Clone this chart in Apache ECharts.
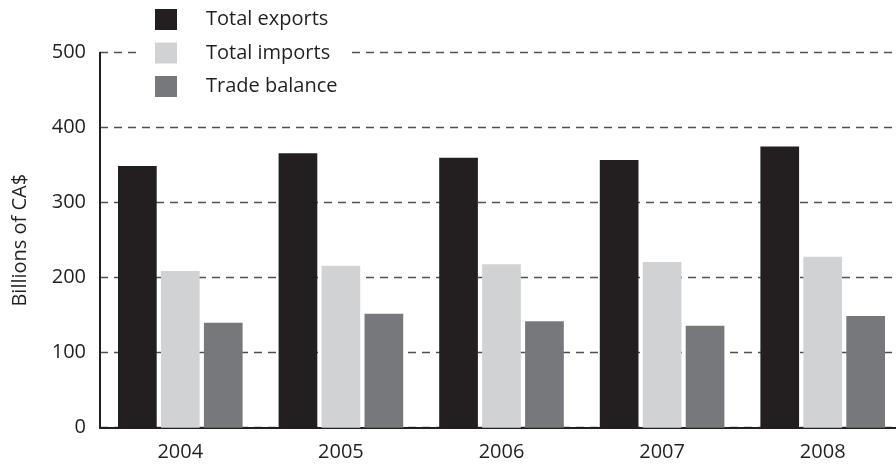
<!DOCTYPE html>
<html>
<head>
<meta charset="utf-8">
<script src="https://cdn.jsdelivr.net/npm/echarts@6/dist/echarts.min.js"></script>
<style>
  html, body { margin: 0; padding: 0; background: #ffffff; overflow: hidden; }
  /* the plot runs a little past the right edge of the window */
  #chart { width: 903px; height: 466px; }
</style>
</head>
<body>
<div id="chart"></div>
<script>
// Canadian trade, billions of CA$
const years = ['2004', '2005', '2006', '2007', '2008'];
const totalExports = [349, 366, 360, 357, 375];
const totalImports = [209, 216, 218, 221, 228];
const tradeBalance = [140, 152, 142, 136, 149];
const seriesNames = ['Total exports', 'Total imports', 'Trade balance'];
const yTicks = { min: 0, max: 500, interval: 100 };

const FONT = 'Open Sans';
const INK = '#231f20';

const chart = echarts.init(document.getElementById('chart'), null, { renderer: 'canvas' });

function barSeries(name, data, color) {
  return {
    name: name,
    type: 'bar',
    data: data,
    itemStyle: { color: color },
    barWidth: 38.7,
    barGap: '11%',
    emphasis: { disabled: true }
  };
}

chart.setOption({
  animation: false,
  backgroundColor: '#ffffff',
  textStyle: { fontFamily: FONT },
  grid: { left: 100, top: 52.7, right: 0, bottom: 38.3, containLabel: false },
  legend: {
    orient: 'vertical',
    left: 138,
    top: 3,
    padding: [6, 12, 6, 17],
    backgroundColor: '#ffffff',
    itemWidth: 22,
    itemHeight: 21,
    itemGap: 12.5,
    icon: 'rect',
    textStyle: { fontFamily: FONT, fontSize: 20, color: INK, padding: [0, 0, 0, 24] },
    data: seriesNames
  },
  xAxis: {
    type: 'category',
    data: years,
    axisLine: { lineStyle: { color: INK, width: 2 } },
    axisTick: { show: false },
    axisLabel: { fontFamily: FONT, fontSize: 20, color: INK, margin: 15 }
  },
  yAxis: {
    type: 'value',
    min: yTicks.min,
    max: yTicks.max,
    interval: yTicks.interval,
    name: 'Billions of CA$',
    nameLocation: 'middle',
    nameGap: 70,
    nameTextStyle: { fontFamily: FONT, fontSize: 20, color: INK },
    axisLine: { show: true, lineStyle: { color: INK, width: 2 } },
    axisTick: { show: false },
    axisLabel: { fontFamily: FONT, fontSize: 20, color: INK, margin: 14 },
    splitLine: { show: true, lineStyle: { color: '#505052', width: 1.4, type: [8, 6] } }
  },
  series: [
    barSeries(seriesNames[0], totalExports, '#231f20'),
    barSeries(seriesNames[1], totalImports, '#d1d2d4'),
    barSeries(seriesNames[2], tradeBalance, '#77787b')
  ]
});
</script>
</body>
</html>
